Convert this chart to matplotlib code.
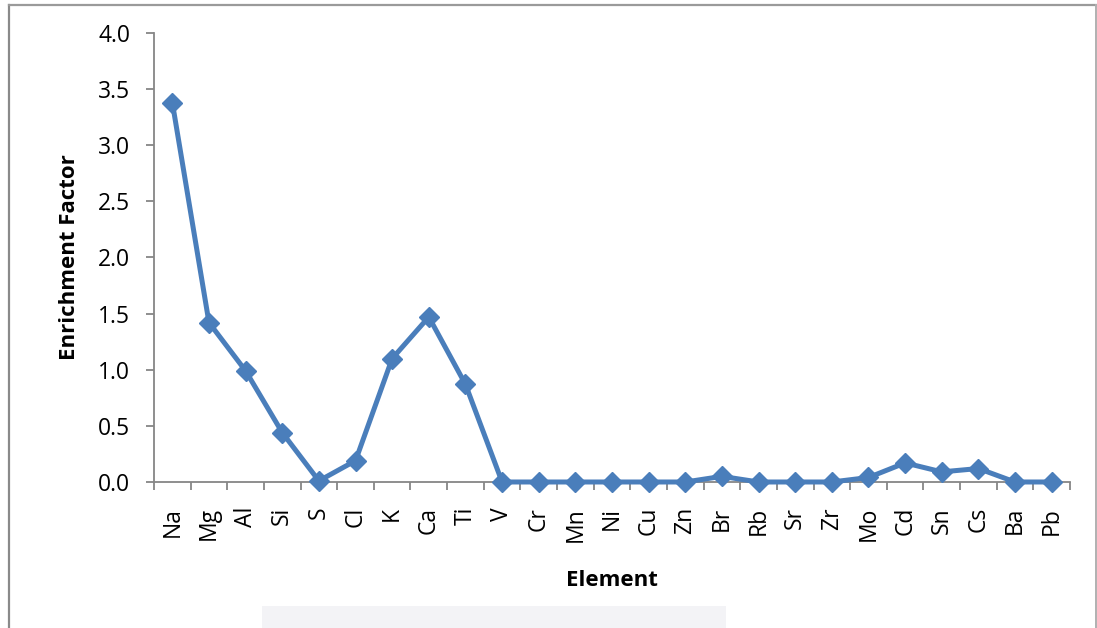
import numpy as np
import matplotlib.pyplot as plt
from matplotlib.lines import Line2D
from matplotlib.patches import Rectangle

elements = ['Na', 'Mg', 'Al', 'Si', 'S', 'Cl', 'K', 'Ca', 'Ti', 'V', 'Cr', 'Mn', 'Ni',
            'Cu', 'Zn', 'Br', 'Rb', 'Sr', 'Zr', 'Mo', 'Cd', 'Sn', 'Cs', 'Ba', 'Pb']
ef = [3.38, 1.42, 0.99, 0.44, 0.01, 0.19, 1.10, 1.47, 0.87, 0.0, 0.0, 0.0, 0.0,
      0.0, 0.0, 0.05, 0.0, 0.0, 0.0, 0.04, 0.17, 0.09, 0.12, 0.0, 0.0]
yticks = [0.0, 0.5, 1.0, 1.5, 2.0, 2.5, 3.0, 3.5, 4.0]

plt.rcParams['font.family'] = ['Open Sans', 'DejaVu Sans']
blue = '#4a7ebb'
grey = '#868686'

fig = plt.figure(figsize=(10.97, 6.28), dpi=100)
ax = fig.add_axes([0.1404, 0.2325, 0.835, 0.715])

x = np.arange(len(elements))
ax.plot(x, ef, color=blue, lw=3.6, marker='D', ms=10, mfc=blue, mec=blue,
        solid_joinstyle='round', clip_on=False, zorder=3)

ax.set_xlim(-0.5, len(elements) - 0.5)
ax.set_ylim(0, 4.0)
ax.set_yticks(yticks)
ax.set_yticklabels(['%.1f' % v for v in yticks], fontsize=16.5)
ax.set_xticks(x)
ax.set_xticklabels(elements, rotation=90, fontsize=16.5)
ax.set_xticks(np.arange(len(elements) + 1) - 0.5, minor=True)
ax.tick_params(axis='x', which='major', length=0, pad=18)
ax.tick_params(axis='x', which='minor', length=6, width=1.3, color=grey)
ax.tick_params(axis='y', length=6, width=1.3, color=grey, pad=11)

for s in ['top', 'right']:
    ax.spines[s].set_visible(False)
for s in ['left', 'bottom']:
    ax.spines[s].set_color(grey)
    ax.spines[s].set_linewidth(1.3)

ax.set_ylabel('Enrichment Factor', fontsize=16, fontweight='bold', labelpad=13)
ax.set_xlabel('Element', fontsize=16, fontweight='bold', labelpad=20)

# chart area frame (left, top, right)
W, H = 1097, 628
fx = lambda px: px / W
fy = lambda py: 1 - py / H
fig.add_artist(Line2D([fx(9), fx(9)], [0, fy(5)], color='#8a8a8a', lw=1.6))
fig.add_artist(Line2D([fx(9), fx(1096)], [fy(5), fy(5)], color='#9a9a9a', lw=1.6))
fig.add_artist(Line2D([fx(1096), fx(1096)], [0, fy(5)], color='#b0b0b0', lw=1.4))
fig.add_artist(Rectangle((fx(262), 0), fx(726) - fx(262), fy(606), color='#f3f3f6', lw=0))

fig.savefig('out.png', dpi=100)
